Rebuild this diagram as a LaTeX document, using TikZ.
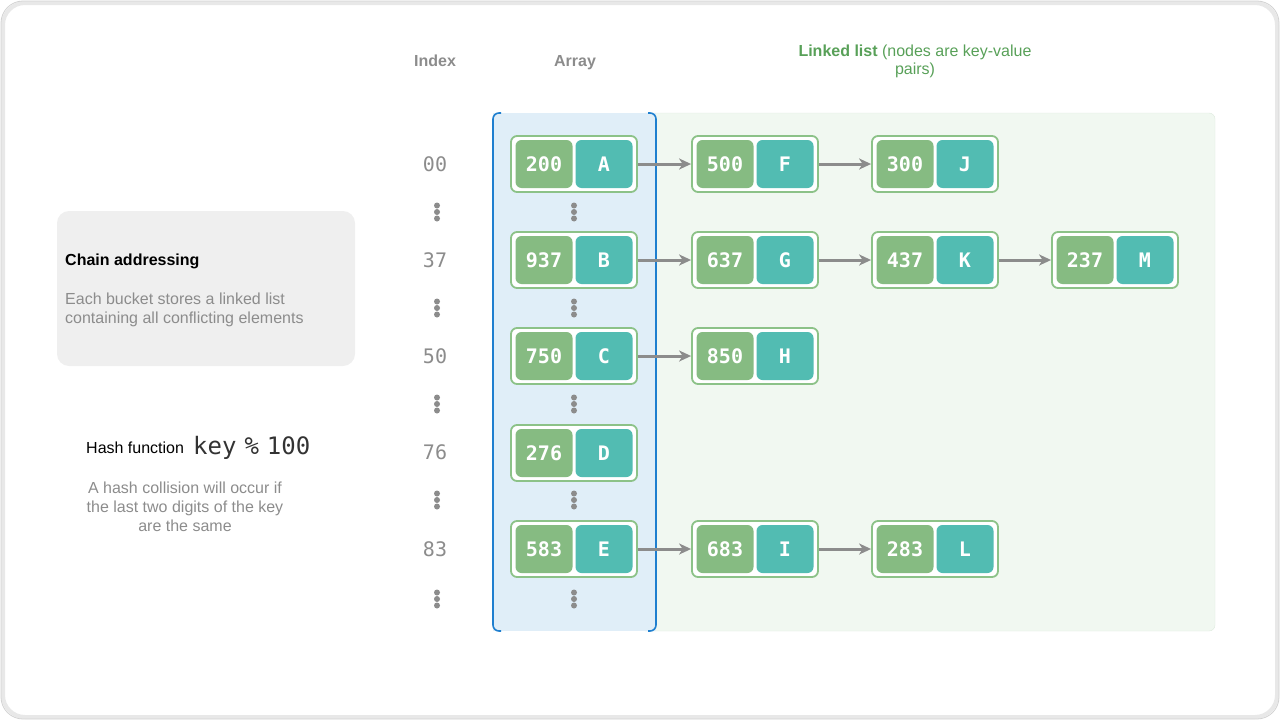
\documentclass[tikz,border=0pt]{standalone}
\usepackage{fontspec}
\setmainfont{Liberation Sans}
\newfontfamily\monofont{DejaVu Sans Mono}
\usetikzlibrary{arrows.meta}

\definecolor{keygreen}{RGB}{134,187,130}
\definecolor{valteal}{RGB}{82,188,178}
\definecolor{boxedge}{RGB}{140,194,136}
\definecolor{arrfill}{RGB}{224,238,248}
\definecolor{arredge}{RGB}{31,127,207}
\definecolor{listfill}{RGB}{241,248,241}
\definecolor{listedge}{RGB}{221,234,221}
\definecolor{txtgray}{RGB}{140,140,140}
\definecolor{panelgray}{RGB}{239,239,239}
\definecolor{headgreen}{RGB}{88,160,88}

\newcommand{\fsz}[1]{\fontsize{#1}{#1}\selectfont}
% one key-value entry: name, x, y, key, value
\newcommand{\kv}[5]{%
  \node[entry] (#1) at (#2,#3) {};
  \node[keybox] (#1k) at ([xshift=-30pt]#1.center) {#4};
  \node[valbox] (#1v) at ([xshift=30pt]#1.center) {#5};
}
\newcommand{\gapdots}[2]{%
  \fill[txtgray] (#1,#2-6.5) circle (3);
  \fill[txtgray] (#1,#2) circle (3);
  \fill[txtgray] (#1,#2+6.5) circle (3);
}

\begin{document}
\begin{tikzpicture}[x=1pt,y=-1pt,
  entry/.style={draw=boxedge,line width=1.8pt,fill=white,rounded corners=6pt,
    minimum width=126pt,minimum height=56pt,inner sep=0pt},
  keybox/.style={fill=keygreen,rounded corners=6pt,minimum width=57pt,
    minimum height=48pt,inner sep=0pt,text=white,font=\monofont\bfseries\fsz{20}},
  valbox/.style={keybox,fill=valteal},
  idx/.style={text=txtgray,font=\monofont\fsz{20}},
  head/.style={text=txtgray,font=\bfseries\fsz{16},anchor=base,inner sep=0pt},
  note/.style={text=txtgray,font=\fsz{16},inner sep=0pt},
  link/.style={draw=txtgray,line width=3pt,-{Stealth[length=12pt,width=11pt,inset=3.5pt]}}]
  \useasboundingbox (0,0) rectangle (1280,720);
  % frame
  \draw[gray!18,line width=4pt,rounded corners=22pt] (3,3) rectangle (1277,717);
  \draw[gray!35,line width=0.8pt,rounded corners=22pt] (1,1) rectangle (1279,719);

  % headers
  \node[head] (hidx) at (435,66) {Index};
  \node[head] (harr) at (575,66) {Array};
  \node[text=headgreen,font=\fsz{16},align=center] (hlist) at (915,61)
    {\textbf{Linked list} (nodes are key-value\\[2pt]pairs)};

  % regions
  \draw[listedge,fill=listfill,rounded corners=6pt] (640,113) rectangle (1215,631);
  \fill[arrfill] (493,113) rectangle (656,631);
  \draw[arredge,line width=1.6pt,rounded corners=6pt] (501,113) -- (493,113) -- (493,631) -- (501,631);
  \draw[arredge,line width=1.6pt,rounded corners=6pt] (648,113) -- (656,113) -- (656,631) -- (648,631);

  % left panel
  \fill[panelgray,rounded corners=12pt] (57,211) rectangle (355,366);
  \node[anchor=west,inner sep=0pt,font=\bfseries\fsz{16}] (title) at (65,261) {Chain addressing};
  \node[note,anchor=north west,align=left] (desc) at (65,293)
    {Each bucket stores a linked list\\[3pt]containing all conflicting elements};
  \node[anchor=west,inner sep=0pt,font=\fsz{16}] (hf) at (86,448) {Hash function};
  \node[anchor=west,inner sep=0pt,text=black!80,font=\monofont\fsz{24}] (hkey) at (193,448)
    {key\hspace{8pt}\%\hspace{8pt}100};
  \node[note,align=center] (coll) at (185,507)
    {A hash collision will occur if\\[3pt]the last two digits of the key\\[3pt]are the same};

  % index column
  \node[idx] (i00) at (435,164) {00};
  \node[idx] (i37) at (435,260) {37};
  \node[idx] (i50) at (435,356) {50};
  \node[idx] (i76) at (435,452) {76};
  \node[idx] (i83) at (435,549) {83};
  \foreach \y in {212,308,404,500,599} {
    \gapdots{437}{\y}
    \gapdots{574}{\y}
  }

  % entries
  \kv{a}{574}{164}{200}{A}
  \kv{f}{755}{164}{500}{F}
  \kv{j}{935}{164}{300}{J}
  \kv{b}{574}{260}{937}{B}
  \kv{g}{755}{260}{637}{G}
  \kv{k}{935}{260}{437}{K}
  \kv{m}{1115}{260}{237}{M}
  \kv{c}{574}{356}{750}{C}
  \kv{h}{755}{356}{850}{H}
  \kv{d}{574}{453}{276}{D}
  \kv{e}{574}{549}{583}{E}
  \kv{i}{755}{549}{683}{I}
  \kv{l}{935}{549}{283}{L}

  % links
  \draw[link] (a) -- (f);
  \draw[link] (f) -- (j);
  \draw[link] (b) -- (g);
  \draw[link] (g) -- (k);
  \draw[link] (k) -- (m);
  \draw[link] (c) -- (h);
  \draw[link] (e) -- (i);
  \draw[link] (i) -- (l);
\end{tikzpicture}
\end{document}
